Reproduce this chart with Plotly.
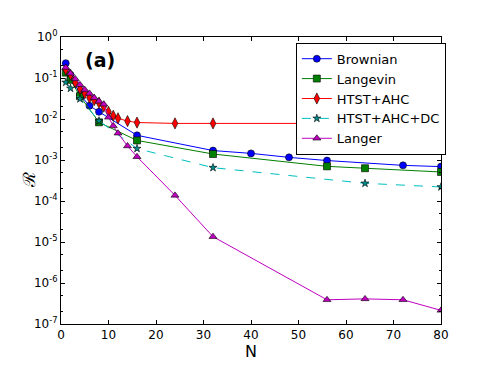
import plotly.graph_objects as go

# Data
brownian_N = [1, 2, 4, 6, 8, 16, 32, 40, 48, 56, 72, 80]
brownian_R = [0.23, 0.12, 0.039, 0.021, 0.015, 0.004, 0.0017, 0.00145, 0.00116, 0.00097, 0.00074, 0.00069]

langevin_N = [1, 2, 4, 8, 16, 32, 56, 64, 80]
langevin_R = [0.135, 0.09, 0.036, 0.0083, 0.003, 0.0014, 0.0007, 0.00063, 0.00051]

htst_N = [1, 2, 3, 4, 5, 6, 7, 8, 9, 10, 11, 12, 14, 16, 24, 32, 80]
htst_R = [0.16, 0.12, 0.078, 0.054, 0.042, 0.033, 0.029, 0.025, 0.02, 0.015, 0.012, 0.0104,
          0.0089, 0.0082, 0.0078, 0.0078, 0.0078]

htstdc_N = [1, 2, 4, 8, 16, 32, 64, 80]
htstdc_R = [0.078, 0.056, 0.031, 0.009, 0.0019, 0.00065, 0.00027, 0.00022]

langer_N = [1, 2, 3, 4, 5, 6, 7, 8, 9, 10, 11, 12, 14, 16, 24, 32, 56, 64, 72, 80]
langer_R = [0.18, 0.13, 0.095, 0.068, 0.052, 0.042, 0.033, 0.027, 0.023, 0.011, 0.0068, 0.0045,
            0.0022, 0.0012, 0.000137, 1.35e-5, 3.9e-7, 4.1e-7, 3.9e-7, 2.15e-7]

ytick_vals = [1e0, 1e-1, 1e-2, 1e-3, 1e-4, 1e-5, 1e-6, 1e-7]
ytick_text = ["10<sup>0</sup>", "10<sup>-1</sup>", "10<sup>-2</sup>", "10<sup>-3</sup>",
              "10<sup>-4</sup>", "10<sup>-5</sup>", "10<sup>-6</sup>", "10<sup>-7</sup>"]

FONT = "DejaVu Sans"
edge = dict(color="black", width=0.6)

fig = go.Figure()
fig.add_trace(go.Scatter(x=brownian_N, y=brownian_R, name="Brownian", mode="lines+markers",
                         line=dict(color="#0000ff", width=1),
                         marker=dict(symbol="circle", size=7, color="#0000ff", line=edge)))
fig.add_trace(go.Scatter(x=langevin_N, y=langevin_R, name="Langevin", mode="lines+markers",
                         line=dict(color="#008000", width=1),
                         marker=dict(symbol="square", size=7, color="#008000", line=edge)))
fig.add_trace(go.Scatter(x=htst_N, y=htst_R, name="HTST+AHC", mode="lines+markers",
                         line=dict(color="#ff0000", width=1),
                         marker=dict(symbol="diamond-tall", size=8, color="#ff0000", line=edge)))
fig.add_trace(go.Scatter(x=htstdc_N, y=htstdc_R, name="HTST+AHC+DC", mode="lines+markers",
                         line=dict(color="#00bfbf", width=1, dash="dash"),
                         marker=dict(symbol="star", size=6, color="#008b8b", line=edge)))
fig.add_trace(go.Scatter(x=langer_N, y=langer_R, name="Langer", mode="lines+markers",
                         line=dict(color="#bf00bf", width=1),
                         marker=dict(symbol="triangle-up", size=7, color="#bf00bf", line=edge)))

fig.update_layout(
    width=483, height=360,
    margin=dict(l=53, r=50, t=29, b=37),
    paper_bgcolor="white", plot_bgcolor="white",
    font=dict(family=FONT, size=12, color="black"),
    showlegend=True,
    legend=dict(x=0.618, y=0.98, xanchor="left", yanchor="top",
                bgcolor="white", bordercolor="black", borderwidth=1,
                font=dict(family=FONT, size=13), tracegroupgap=0, itemwidth=30),
    annotations=[
        dict(text="<b>(a)</b>", x=0.103, y=0.921, xref="paper", yref="paper",
             xanchor="center", yanchor="middle",
             showarrow=False, font=dict(family=FONT, size=19, color="black")),
        dict(text="ℛ", x=-0.085, y=0.5, xref="paper", yref="paper", textangle=-90,
             xanchor="center", yanchor="middle",
             showarrow=False, font=dict(family="DejaVu Serif", size=17, color="black")),
    ],
)
fig.update_xaxes(
    range=[0, 80], dtick=10, tick0=0, showgrid=False, zeroline=False,
    ticks="inside", ticklen=4, tickcolor="black", showline=True, linecolor="black",
    linewidth=1, mirror="ticks", tickfont=dict(size=12),
    title=dict(text="N", font=dict(family=FONT, size=16), standoff=2),
)
fig.update_yaxes(
    type="log", range=[-7, 0], tickmode="array", tickvals=ytick_vals, ticktext=ytick_text,
    showgrid=False, zeroline=False, ticks="inside", ticklen=4, tickcolor="black",
    showline=True, linecolor="black", linewidth=1, mirror="ticks", tickfont=dict(size=12),
    minor=dict(ticks="inside", ticklen=2, tickcolor="black", showgrid=False),
)

fig.write_html("out.html")
